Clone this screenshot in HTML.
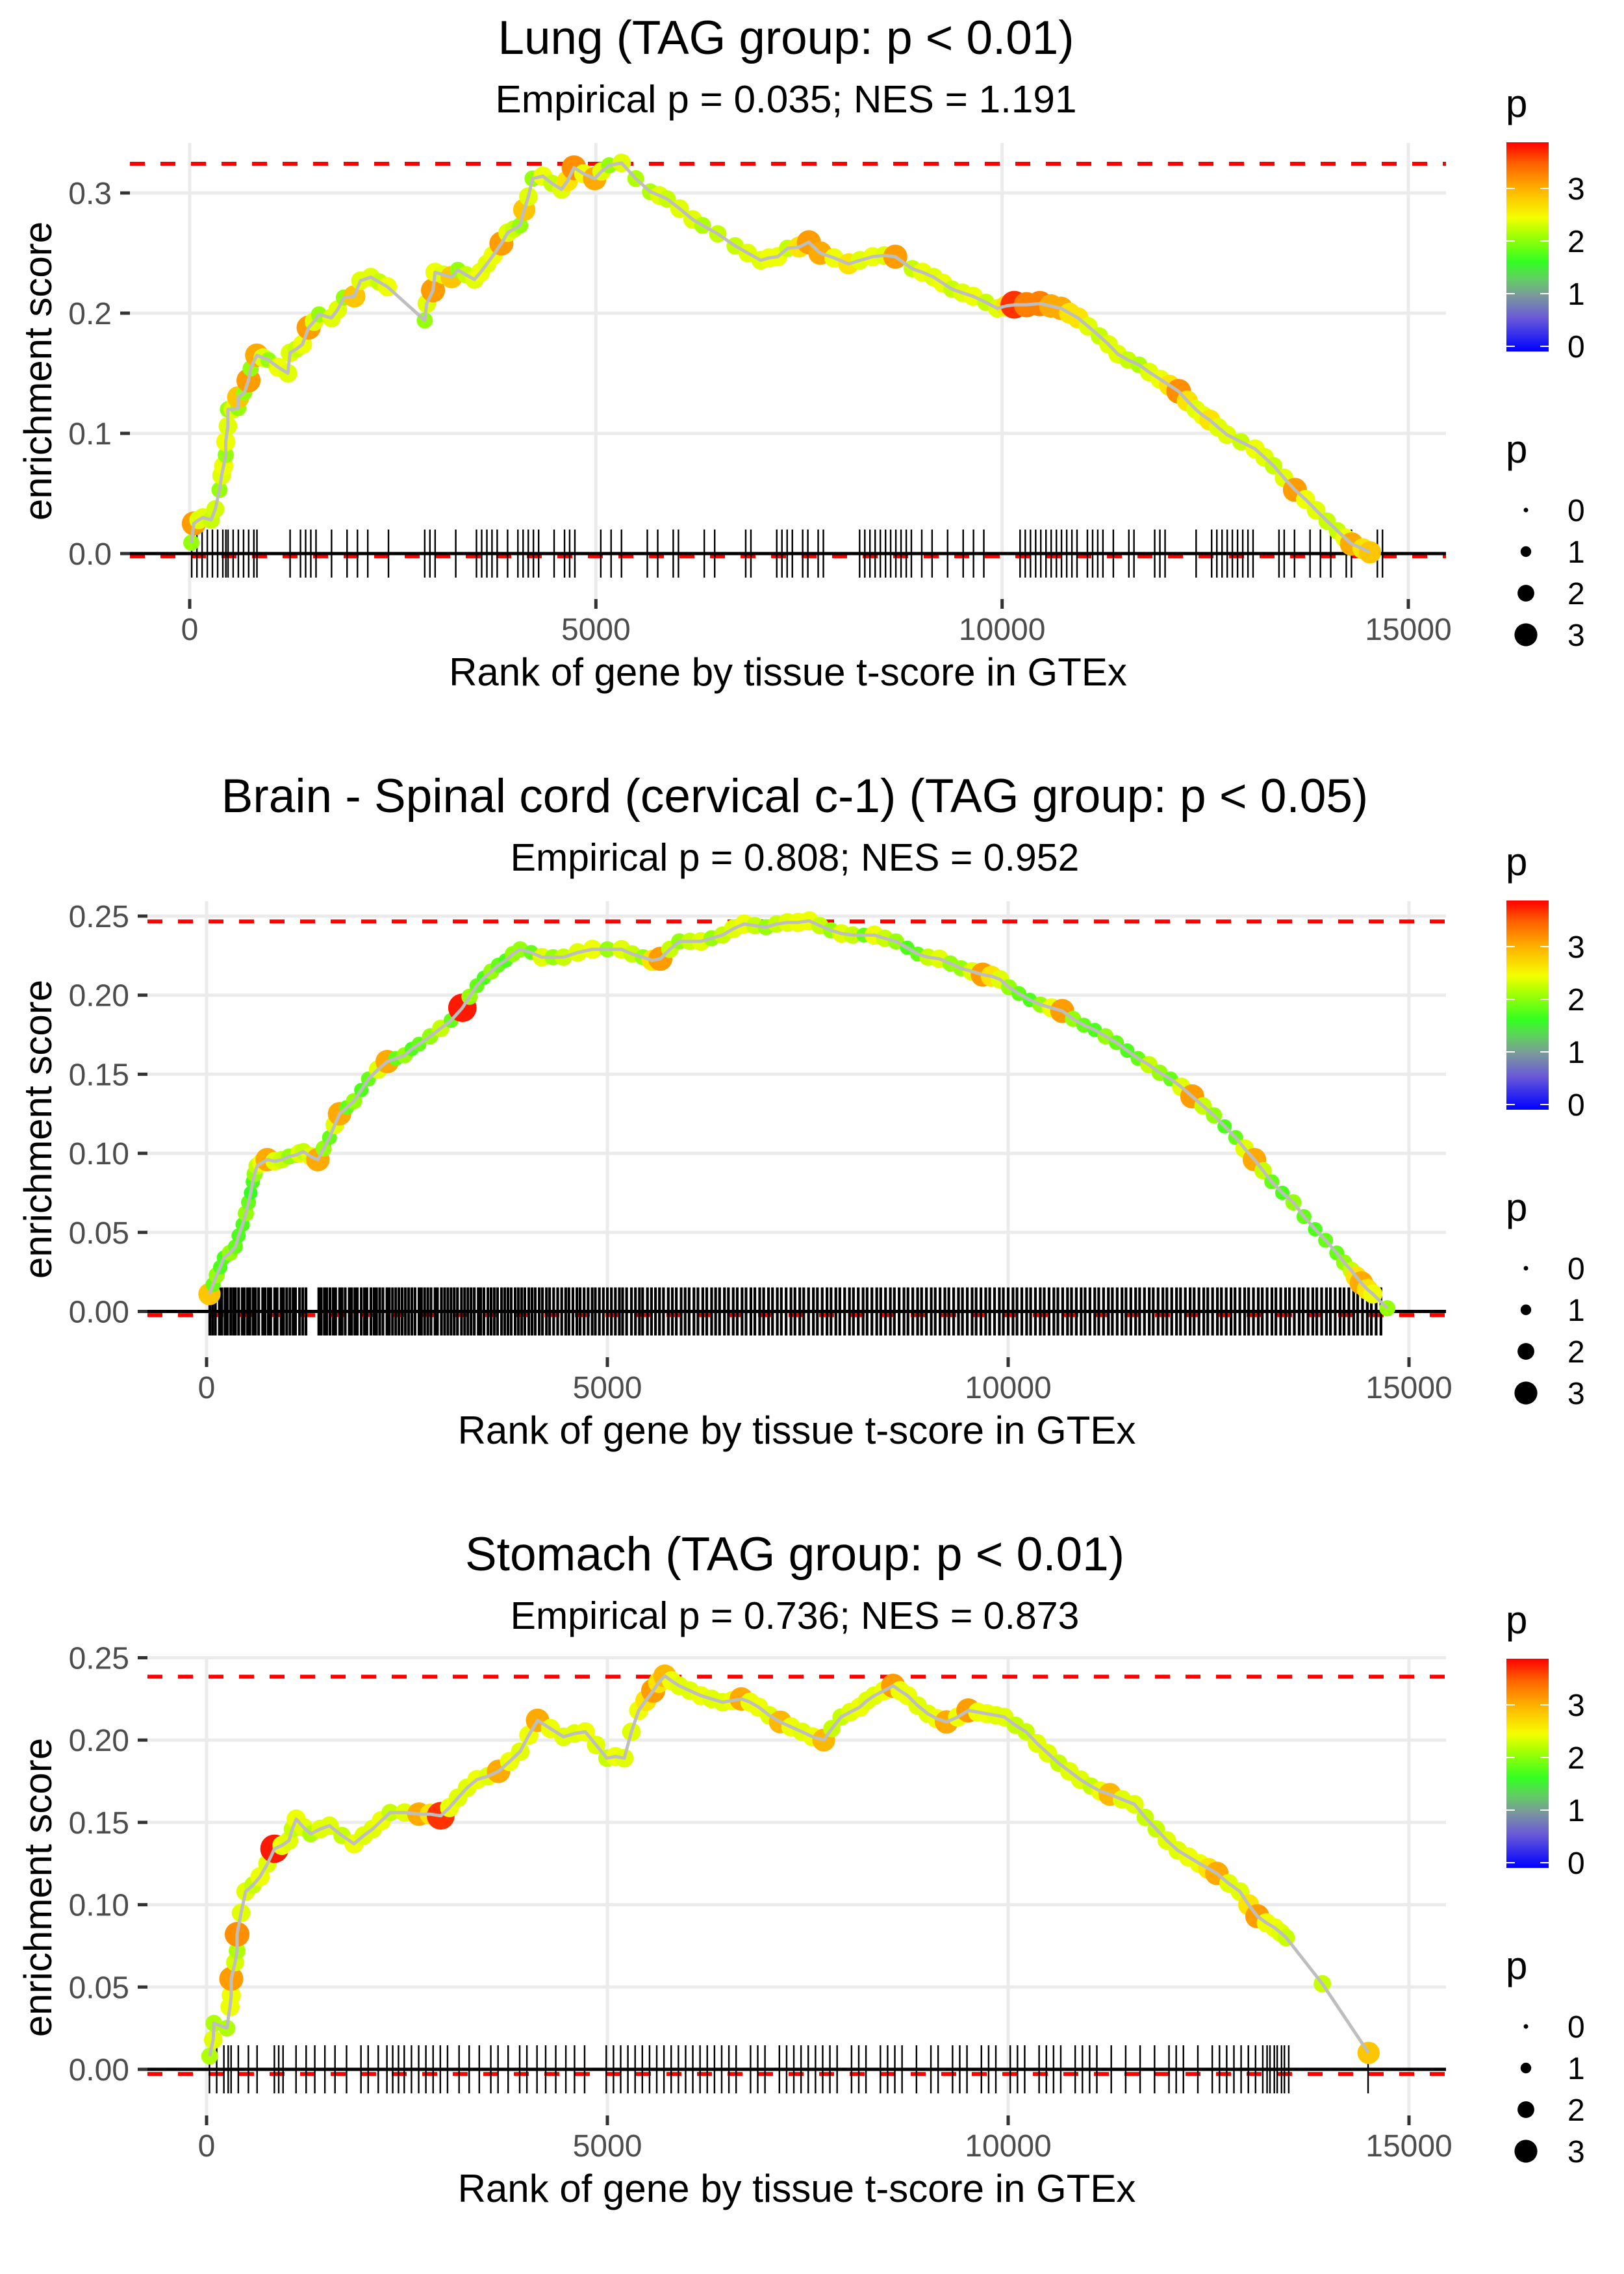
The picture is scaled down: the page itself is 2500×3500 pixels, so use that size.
<!DOCTYPE html>
<html><head><meta charset="utf-8"><title>Enrichment plots</title>
<style>
html,body{margin:0;padding:0;background:#fff;}
svg{display:block;font-family:"Liberation Sans",Arial,sans-serif;}
</style></head>
<body>
<svg id="fig" xmlns="http://www.w3.org/2000/svg" width="2500" height="3500" viewBox="0 0 2500 3500">
<defs>
<linearGradient id="pgrad" x1="0" y1="1" x2="0" y2="0">
<stop offset="0" stop-color="#0000ff"/>
<stop offset="0.16" stop-color="#6a5ad8"/>
<stop offset="0.27" stop-color="#7a9a9a"/>
<stop offset="0.35" stop-color="#60d060"/>
<stop offset="0.43" stop-color="#33ff22"/>
<stop offset="0.57" stop-color="#b0ff00"/>
<stop offset="0.64" stop-color="#f4ff00"/>
<stop offset="0.78" stop-color="#ffb000"/>
<stop offset="0.9" stop-color="#ff6000"/>
<stop offset="1" stop-color="#ff0000"/>
</linearGradient>
</defs>
<rect width="2500" height="3500" fill="#fff"/>
<g id="root"></g>
</svg>
<script>
// ---------- Panel 1: Lung ----------
const lungRank = [20,51,110,163,265,316,367,393,418,444,444,470,470,530,597,597,673,724,750,826,900,969,1090,1209,1235,1310,1388,1464,1530,1592,1745,1822,1898,2026,2102,2229,2330,2433,2893,2918,2995,3020,3120,3224,3301,3400,3505,3580,3658,3735,3837,3914,3990,4067,4118,4169,4220,4347,4460,4577,4650,4730,4850,4985,5070,5163,5316,5490,5670,5780,5877,6030,6191,6313,6500,6714,6870,7028,7130,7238,7360,7500,7621,7760,7930,8110,8250,8406,8550,8685,8894,9020,9156,9270,9383,9510,9644,9800,9941,10050,10150,10300,10464,10600,10726,10830,10935,11060,11197,11310,11423,11550,11685,11810,11946,12060,12173,12280,12382,12470,12557,12660,12766,12940,13115,13230,13342,13470,13604,13735,13865,14000,14127,14220,14301,14441,14528];
const lungES = [0.009,0.025,0.028,0.03,0.028,0.037,0.053,0.065,0.073,0.082,0.093,0.106,0.12,0.12,0.121,0.13,0.134,0.144,0.154,0.165,0.163,0.161,0.155,0.15,0.167,0.17,0.174,0.188,0.193,0.199,0.196,0.203,0.213,0.214,0.227,0.23,0.226,0.222,0.194,0.208,0.219,0.234,0.232,0.23,0.236,0.232,0.228,0.234,0.241,0.248,0.258,0.267,0.27,0.273,0.286,0.297,0.312,0.314,0.308,0.303,0.31,0.321,0.316,0.312,0.318,0.323,0.325,0.312,0.301,0.298,0.295,0.287,0.278,0.273,0.266,0.256,0.25,0.244,0.246,0.247,0.254,0.255,0.259,0.25,0.246,0.241,0.244,0.247,0.248,0.247,0.237,0.234,0.23,0.225,0.22,0.217,0.214,0.209,0.204,0.206,0.207,0.207,0.208,0.206,0.204,0.2,0.196,0.189,0.181,0.174,0.166,0.161,0.157,0.151,0.145,0.14,0.135,0.127,0.12,0.115,0.111,0.105,0.099,0.093,0.087,0.08,0.073,0.063,0.053,0.045,0.036,0.027,0.019,0.013,0.008,0.004,0.001];
const lungP = [1.8,3.1,2.2,2.2,2.0,2.1,1.8,2.2,2.3,1.8,2.3,2.2,1.8,2.2,1.8,2.8,1.8,3.1,1.8,3.0,2.2,1.8,2.3,2.2,2.2,2.0,2.3,3.1,2.2,1.8,2.2,2.2,1.8,2.8,2.2,2.2,2.0,2.3,1.8,2.2,3.1,2.3,2.2,2.8,1.8,2.0,2.2,2.3,2.2,2.3,3.1,2.2,2.0,1.8,2.8,2.2,1.8,2.3,2.0,2.2,2.6,3.2,2.3,3.0,2.2,1.8,2.2,1.9,1.9,2.2,2.0,2.2,2.2,1.9,2.0,2.0,2.2,2.2,2.3,2.3,2.0,2.6,3.1,3.0,2.3,2.6,2.2,2.3,2.2,3.1,2.0,2.3,2.2,2.3,2.0,2.2,2.3,2.0,2.2,2.6,3.7,3.3,3.3,3.0,3.0,2.6,2.6,2.2,2.0,2.2,2.2,2.0,1.9,2.2,2.3,2.6,3.2,2.6,2.2,2.3,2.6,2.2,2.2,2.0,2.3,2.2,2.0,2.2,3.1,2.3,2.2,2.0,2.0,2.3,3.0,2.6,2.8];
const lungRug = [25,89,153,217,280,344,408,446,472,535,599,663,726,790,828,1236,1364,1427,1491,1555,1746,1937,2065,2192,2447,2893,2957,3021,3275,3530,3594,3658,3721,3785,3913,4040,4104,4168,4231,4295,4486,4614,4677,4741,5060,5187,5315,5633,5761,5952,6016,6334,6462,6844,6908,7226,7290,7354,7418,7545,7609,7736,7800,8246,8310,8373,8437,8501,8565,8628,8692,8756,8820,8883,9011,9138,9329,9521,9648,9775,10221,10285,10349,10413,10476,10540,10604,10668,10731,10795,10859,10922,11050,11114,11177,11241,11369,11560,11623,11878,11942,12006,12388,12579,12643,12707,12771,12834,12898,12962,13026,13089,13408,13472,13599,13790,13918,14045,14236,14300,14619,14682];
const lungYTicks = [0,0.1,0.2,0.3];
const lungYLabels = ["0.0","0.1","0.2","0.3"];

// ---------- Panel 2: Brain - Spinal cord ----------
const spinalRank = [36,80,126,170,216,290,360,400,450,490,523,550,577,600,631,690,757,850,938,1030,1118,1160,1208,1300,1388,1460,1533,1600,1659,1750,1839,1930,2019,2140,2254,2360,2470,2560,2650,2790,2921,3050,3191,3280,3372,3460,3552,3640,3732,3820,3912,4050,4183,4320,4453,4630,4814,5000,5175,5310,5445,5560,5661,5780,5896,6030,6166,6300,6437,6570,6707,6840,6978,7110,7248,7380,7519,7650,7789,7920,8059,8200,8330,8460,8600,8740,8871,9000,9141,9280,9412,9550,9682,9790,9898,10010,10133,10270,10403,10540,10674,10810,10944,11080,11214,11350,11485,11620,11756,11890,12026,12160,12296,12430,12567,12700,12837,12950,13072,13180,13288,13420,13558,13690,13829,13960,14099,14190,14280,14340,14406,14480,14550,14730];
const spinalES = [0.011,0.017,0.023,0.028,0.034,0.037,0.041,0.048,0.055,0.062,0.069,0.075,0.082,0.087,0.092,0.094,0.096,0.095,0.096,0.098,0.099,0.1,0.101,0.098,0.096,0.103,0.11,0.118,0.125,0.129,0.133,0.14,0.147,0.153,0.158,0.16,0.162,0.166,0.169,0.174,0.179,0.184,0.192,0.199,0.206,0.211,0.215,0.219,0.222,0.226,0.229,0.227,0.224,0.224,0.224,0.227,0.229,0.229,0.229,0.226,0.224,0.222,0.223,0.229,0.234,0.234,0.234,0.236,0.238,0.242,0.245,0.244,0.243,0.245,0.246,0.246,0.247,0.244,0.241,0.239,0.238,0.238,0.238,0.236,0.234,0.23,0.226,0.224,0.223,0.22,0.217,0.215,0.213,0.212,0.21,0.205,0.201,0.197,0.194,0.192,0.19,0.185,0.181,0.178,0.174,0.17,0.165,0.16,0.156,0.151,0.147,0.142,0.136,0.13,0.124,0.117,0.11,0.103,0.096,0.089,0.082,0.075,0.069,0.06,0.052,0.045,0.037,0.031,0.026,0.022,0.018,0.014,0.011,0.002];
const spinalP = [2.8,1.6,1.8,1.5,1.5,1.8,1.6,1.5,1.5,1.8,1.6,1.4,1.5,1.8,2.0,2.3,3.0,2.2,2.0,1.8,1.8,2.2,2.0,2.2,3.0,1.8,1.6,2.2,3.0,1.6,1.8,1.5,1.6,2.2,3.0,1.6,1.8,1.5,1.6,1.8,2.0,1.6,3.8,1.8,1.6,1.5,1.8,1.6,1.5,1.8,1.8,1.6,2.2,1.8,2.0,2.2,2.3,1.8,2.2,2.0,1.8,2.6,3.1,2.0,1.8,2.0,2.2,1.8,2.0,2.2,2.3,2.0,1.8,2.0,2.2,2.3,2.3,2.0,1.8,2.2,2.0,1.6,2.3,2.0,1.8,1.5,1.6,2.0,2.2,1.8,1.8,2.2,3.1,2.6,2.2,1.8,1.6,1.5,1.8,2.3,3.1,1.8,1.6,1.5,1.8,1.6,1.5,1.6,2.0,1.8,1.6,2.2,3.1,2.0,1.8,1.5,1.6,2.2,3.0,2.0,1.6,1.5,1.8,1.6,1.5,1.6,1.6,1.8,2.0,2.6,3.0,2.6,2.3,1.8];
const spinalRug = [40,75,110,160,190,230,260,300,335,360,400,445,470,510,540,580,610,650,700,730,770,800,850,880,930,960,1000,1040,1080,1110,1160,1200,1240,1400,1430,1470,1500,1540,1580,1610,1660,1690,1730,1780,1810,1850,1880,1930,1970,2000,2050,2090,2120,2160,2200,2250,2280,2320,2360,2400,2440,2480,2520,2560,2600,2650,2680,2720,2760,2800,2850,2880,2930,2970,3010,3050,3090,3130,3180,3220,3260,3300,3340,3390,3420,3460,3510,3550,3590,3630,3680,3720,3760,3800,3850,3890,3930,3970,4020,4060,4100,4150,4190,4240,4280,4330,4380,4430,4480,4520,4570,4620,4660,4710,4760,4810,4850,4900,4950,5000,5050,5100,5150,5190,5240,5300,5350,5400,5440,5500,5550,5600,5650,5700,5760,5810,5860,5920,5970,6020,6080,6130,6190,6240,6300,6350,6400,6460,6510,6570,6620,6680,6730,6790,6840,6900,6950,7010,7060,7120,7170,7230,7290,7340,7400,7450,7510,7570,7620,7680,7740,7790,7850,7900,7960,8020,8070,8130,8190,8240,8300,8360,8410,8470,8530,8580,8640,8700,8750,8810,8870,8920,8980,9040,9090,9150,9210,9260,9320,9380,9430,9490,9550,9600,9660,9720,9770,9830,9890,9940,10000,10060,10110,10170,10230,10280,10340,10400,10450,10510,10570,10620,10680,10740,10790,10850,10910,10960,11020,11080,11130,11190,11250,11300,11360,11420,11470,11530,11590,11640,11700,11760,11810,11870,11930,11980,12040,12100,12150,12210,12270,12320,12380,12440,12490,12550,12610,12660,12720,12780,12830,12890,12950,13000,13060,13120,13170,13230,13290,13340,13400,13460,13510,13570,13630,13680,13740,13800,13850,13910,13970,14020,14080,14140,14190,14250,14310,14360,14420,14480,14530,14590,14650];
const spinalYTicks = [0,0.05,0.1,0.15,0.2,0.25];
const spinalYLabels = ["0.00","0.05","0.10","0.15","0.20","0.25"];

// ---------- Panel 3: Stomach ----------
const stomachRank = [38,83,91,254,292,308,308,356,381,381,430,487,580,667,760,847,940,1028,1070,1118,1210,1298,1420,1533,1690,1839,1960,2073,2180,2290,2470,2650,2790,2921,3030,3137,3250,3372,3510,3642,3780,3912,4020,4129,4290,4453,4590,4724,4860,4994,5100,5211,5300,5391,5480,5571,5640,5716,5800,5896,6030,6166,6300,6437,6560,6671,6780,6887,7020,7158,7290,7428,7560,7699,7800,7915,8030,8149,8240,8330,8450,8564,8650,8745,8870,8997,9110,9231,9370,9502,9620,9736,9850,9952,10090,10223,10360,10494,10630,10764,10900,11034,11150,11268,11420,11575,11710,11846,11980,12116,12250,12387,12500,12603,12750,12891,13000,13108,13220,13324,13400,13468,13919,14496];
const stomachES = [0.008,0.018,0.028,0.025,0.038,0.045,0.055,0.065,0.072,0.082,0.095,0.108,0.112,0.117,0.125,0.134,0.136,0.139,0.146,0.152,0.147,0.143,0.146,0.148,0.142,0.137,0.142,0.146,0.151,0.156,0.156,0.155,0.155,0.154,0.159,0.165,0.171,0.176,0.178,0.181,0.187,0.193,0.203,0.212,0.207,0.202,0.204,0.205,0.197,0.189,0.19,0.189,0.205,0.218,0.224,0.23,0.235,0.239,0.236,0.233,0.23,0.227,0.225,0.223,0.224,0.225,0.223,0.22,0.215,0.211,0.208,0.205,0.202,0.2,0.207,0.214,0.217,0.22,0.224,0.227,0.23,0.233,0.23,0.227,0.221,0.216,0.213,0.211,0.214,0.218,0.217,0.216,0.215,0.214,0.209,0.205,0.198,0.192,0.186,0.181,0.176,0.172,0.169,0.167,0.164,0.161,0.153,0.146,0.139,0.133,0.129,0.125,0.122,0.119,0.113,0.108,0.1,0.093,0.089,0.086,0.083,0.08,0.052,0.01];
const stomachP = [1.9,2.2,1.9,1.9,2.3,2.3,3.1,2.1,1.9,3.2,2.2,2.2,2.0,2.3,2.2,3.8,2.3,2.2,2.0,2.3,2.2,1.9,2.2,2.2,2.0,2.3,2.2,2.2,2.3,2.0,2.2,3.0,2.6,3.7,2.3,2.2,2.2,2.3,2.2,3.0,2.3,2.2,2.3,3.0,2.3,2.2,2.2,2.3,2.2,2.0,2.3,2.2,2.2,2.3,2.6,3.1,2.6,2.9,2.3,2.2,2.2,2.3,2.2,2.2,2.3,3.0,2.3,2.3,2.2,2.9,2.3,2.2,2.3,2.9,2.0,2.0,2.2,2.3,2.2,2.2,2.3,3.1,2.3,2.3,2.2,2.2,2.3,3.0,2.3,3.1,2.3,2.3,2.2,2.2,2.0,2.0,2.2,2.2,2.0,2.2,2.2,2.0,2.3,2.9,2.2,2.2,2.0,2.0,2.2,2.2,2.3,2.3,2.6,3.0,2.2,2.2,2.6,3.1,2.3,2.3,2.2,2.0,2.0,2.8];
const stomachRug = [36,126,216,270,306,396,522,630,846,900,954,1116,1242,1350,1476,1602,1746,1926,2016,2142,2250,2322,2394,2466,2556,2646,2736,2826,2916,3006,3150,3276,3402,3546,3636,3762,3906,3996,4122,4230,4356,4482,4590,4716,4986,5076,5166,5256,5346,5436,5526,5616,5706,5796,5886,5976,6066,6156,6246,6336,6426,6516,6606,6786,6876,6966,7146,7236,7326,7416,7506,7596,7686,7776,7866,8046,8136,8226,8406,8496,8586,8676,8856,9036,9126,9306,9396,9486,9666,9756,9846,10026,10116,10206,10386,10476,10566,10656,10836,10926,11016,11106,11286,11466,11646,11826,12006,12096,12186,12366,12546,12636,12726,12816,12906,12996,13086,13176,13230,13266,13320,13356,13410,13446,13500,14490];
const stomachYTicks = [0,0.05,0.1,0.15,0.2,0.25];
const stomachYLabels = ["0.00","0.05","0.10","0.15","0.20","0.25"];

// shared
const xTicks = [0,5000,10000,15000];
const xTickLabels = ["0","5000","10000","15000"];
const legendColorTicks = [0,1,2,3];
const legendSizeValues = [0,1,2,3];
const esMaxValues = [0.3243,0.2466,0.2385];
const esMinValues = [-0.0022,-0.0023,-0.0028];

const NS = "http://www.w3.org/2000/svg";
const root = document.getElementById("root");
function mk(tag, attrs, parent) {
  const e = document.createElementNS(NS, tag);
  for (const k in attrs) e.setAttribute(k, attrs[k]);
  (parent || root).appendChild(e);
  return e;
}
const cStops = [[0,[0,0,255]],[0.5,[106,90,216]],[0.9,[120,160,150]],[1.2,[80,230,60]],[1.4,[50,255,30]],[2.0,[200,255,0]],[2.4,[250,255,0]],[3.0,[255,170,0]],[3.5,[255,100,0]],[3.9,[255,0,0]]];
function pColor(p) {
  if (p <= cStops[0][0]) p = cStops[0][0];
  for (let i = 1; i < cStops.length; i++) {
    if (p <= cStops[i][0]) {
      const a = cStops[i-1], b = cStops[i], t = (p - a[0]) / (b[0] - a[0]);
      const c = a[1].map((v, j) => Math.round(v + (b[1][j] - v) * t));
      return "rgb(" + c.join(",") + ")";
    }
  }
  return "rgb(255,0,0)";
}
function pRadius(p) { return 4 + 4.7 * p; }

const panels = [
  {title:"Lung (TAG group: p < 0.01)", sub:"Empirical p = 0.035; NES = 1.191", tl:887, sl:895,
   left:200, right:2226, top:220, bottom:922, x0:292, x15:2168, y0:852, ppu:1850, rugW:2.4,
   rank:lungRank, es:lungES, p:lungP, rug:lungRug, yt:lungYTicks, yl:lungYLabels, name:"lung"},
  {title:"Brain - Spinal cord (cervical c-1) (TAG group: p < 0.05)", sub:"Empirical p = 0.808; NES = 0.952", tl:0, sl:0,
   left:227, right:2226, top:1387, bottom:2089, x0:318, x15:2169, y0:2018.5, ppu:2434, rugW:4.2,
   rank:spinalRank, es:spinalES, p:spinalP, rug:spinalRug, yt:spinalYTicks, yl:spinalYLabels, name:"spinal-cord"},
  {title:"Stomach (TAG group: p < 0.01)", sub:"Empirical p = 0.736; NES = 0.873", tl:0, sl:0,
   left:227, right:2226, top:2554, bottom:3256, x0:318, x15:2169, y0:3185, ppu:2534, rugW:2.4,
   rank:stomachRank, es:stomachES, p:stomachP, rug:stomachRug, yt:stomachYTicks, yl:stomachYLabels, name:"stomach"}
];

panels.forEach((P, k) => {
  const dy = 1167 * k;
  const g = mk("g", {});
  
  
  const xs = r => P.x0 + (P.x15 - P.x0) * r / 15000;
  const ys = v => P.y0 - P.ppu * v;
  const cx = (P.left + P.right) / 2;

  const t = mk("text", {x:cx-3, y:83+dy, "text-anchor":"middle", "font-size":73, fill:"#000"}, g);
  if (P.tl) { t.setAttribute("textLength", P.tl); t.setAttribute("lengthAdjust","spacingAndGlyphs"); }
  t.textContent = P.title;
  
  
  const s = mk("text", {x:cx-3, y:173+dy, "text-anchor":"middle", "font-size":59, fill:"#000"}, g);
  if (P.sl) { s.setAttribute("textLength", P.sl); s.setAttribute("lengthAdjust","spacingAndGlyphs"); }
  s.textContent = P.sub;
  
  

  P.yt.forEach((v, i) => {
    const gl = mk("line", {x1:P.left, x2:P.right, y1:ys(v), y2:ys(v), stroke:"#ebebeb", "stroke-width":5}, g);
    
    
    const tk = mk("line", {x1:P.left-15, x2:P.left, y1:ys(v), y2:ys(v), stroke:"#333", "stroke-width":5}, g);
    
    
    const lb = mk("text", {x:P.left-28, y:ys(v)+17, "text-anchor":"end", "font-size":48, fill:"#4d4d4d"}, g);
    lb.textContent = P.yl[i];
    
    
  });
  xTicks.forEach((v, i) => {
    const gl = mk("line", {x1:xs(v), x2:xs(v), y1:P.top, y2:P.bottom, stroke:"#ebebeb", "stroke-width":5}, g);
    
    
    const tk = mk("line", {x1:xs(v), x2:xs(v), y1:P.bottom, y2:P.bottom+15, stroke:"#333", "stroke-width":5}, g);
    
    
    const lb = mk("text", {x:xs(v), y:P.bottom+63, "text-anchor":"middle", "font-size":48, fill:"#4d4d4d"}, g);
    lb.textContent = xTickLabels[i];
    
    
  });

  const xt = mk("text", {x:cx, y:P.bottom+133, "text-anchor":"middle", "font-size":60, fill:"#000"}, g);
  xt.textContent = "Rank of gene by tissue t-score in GTEx";
  
  
  const ymid = (P.top + P.bottom) / 2;
  const yt = mk("text", {x:0, y:0, "text-anchor":"middle", "font-size":60, fill:"#000", transform:"translate(79," + ymid + ") rotate(-90)"}, g);
  yt.textContent = "enrichment score";
  
  

  const rmax = mk("line", {x1:P.left, x2:P.right, y1:ys(esMaxValues[k]), y2:ys(esMaxValues[k]), stroke:"#ff0000", "stroke-width":6, "stroke-dasharray":"23 24"}, g);
  
  
  const rmin = mk("line", {x1:P.left, x2:P.right, y1:ys(esMinValues[k]), y2:ys(esMinValues[k]), stroke:"#ff0000", "stroke-width":6, "stroke-dasharray":"23 24"}, g);
  
  

  const z = mk("line", {x1:P.left, x2:P.right, y1:P.y0, y2:P.y0, stroke:"#000", "stroke-width":5}, g);
  
  

  P.rug.forEach(r => {
    const l = mk("line", {x1:xs(r), x2:xs(r), y1:P.y0-37, y2:P.y0+37, stroke:"#000", "stroke-width":P.rugW}, g);
    
    
  });

  P.rank.forEach((r, i) => {
    const c = mk("circle", {cx:xs(r), cy:ys(P.es[i]), r:pRadius(P.p[i]), fill:pColor(P.p[i])}, g);
    
    
  });

  const pts = P.rank.map((r, i) => xs(r).toFixed(1) + "," + ys(P.es[i]).toFixed(1)).join(" ");
  const pl = mk("polyline", {points:pts, fill:"none", stroke:"#bebebe", "stroke-width":5, "stroke-linejoin":"round"}, g);
  
  

  const lt = mk("text", {x:2318, y:180+dy, "font-size":60, fill:"#000"}, g);
  lt.textContent = "p";
  
  
  const cb = mk("rect", {x:2319, y:219+dy, width:65, height:322, fill:"url(#pgrad)"}, g);
  
  
  legendColorTicks.forEach(v => {
    const yy = 533 + dy - 81 * v;
    const a = mk("line", {x1:2319, x2:2332, y1:yy, y2:yy, stroke:"#fff", "stroke-width":2}, g);
    
    
    const b = mk("line", {x1:2371, x2:2384, y1:yy, y2:yy, stroke:"#fff", "stroke-width":2}, g);
    
    
    const lb = mk("text", {x:2413, y:yy+17, "font-size":48, fill:"#000"}, g);
    lb.textContent = String(v);
    
    
  });

  const st = mk("text", {x:2318, y:712+dy, "font-size":60, fill:"#000"}, g);
  st.textContent = "p";
  
  
  legendSizeValues.forEach((v, i) => {
    const yy = 785 + dy + 64 * i;
    const d = mk("circle", {cx:2349, cy:yy, r:pRadius(v) - 0.5, fill:"#000"}, g);
    
    
    const lb = mk("text", {x:2413, y:yy+17, "font-size":48, fill:"#000"}, g);
    lb.textContent = String(v);
    
    
  });
});
</script>
</body></html>
